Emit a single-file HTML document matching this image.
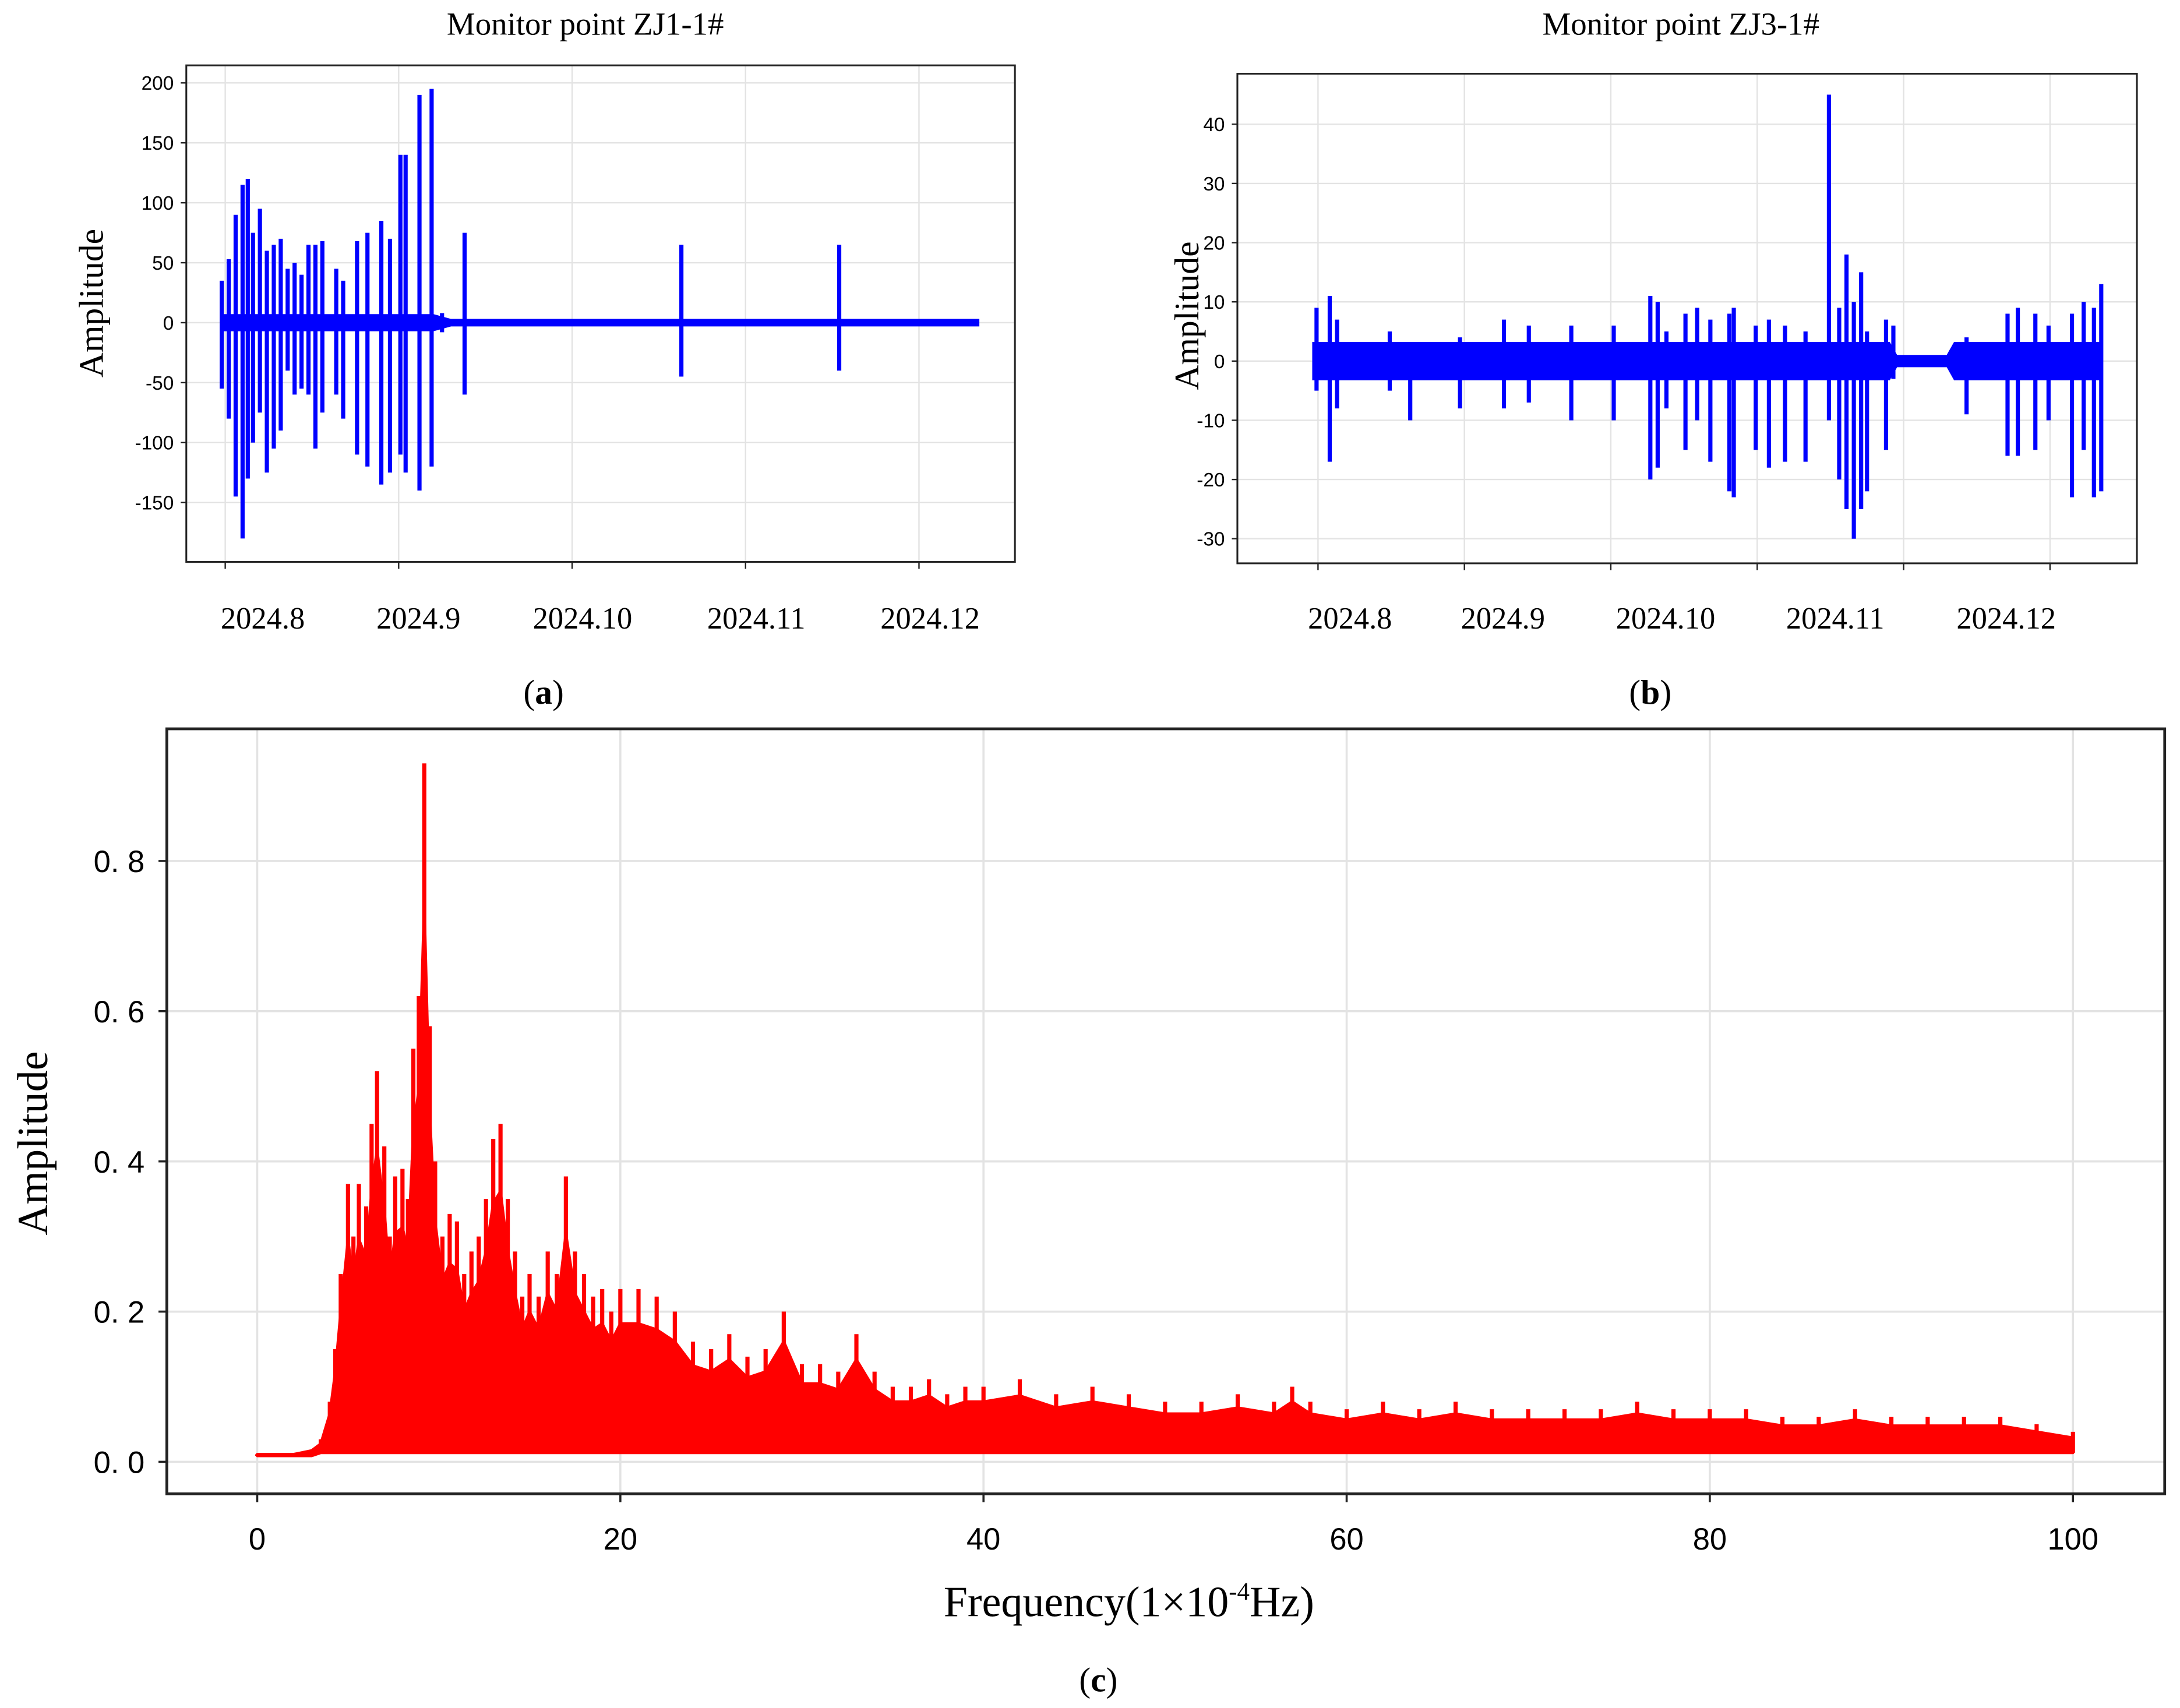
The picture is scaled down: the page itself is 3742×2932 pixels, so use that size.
<!DOCTYPE html>
<html><head><meta charset="utf-8"><style>
html,body{margin:0;padding:0;background:#fff}
svg{display:block}
.serif{font-family:"Liberation Serif",serif}
.sans{font-family:"Liberation Sans","DejaVu Sans",sans-serif}
</style></head><body>
<svg id="fig" width="3742" height="2932" viewBox="0 0 1568 1228" preserveAspectRatio="none" xmlns="http://www.w3.org/2000/svg">
<rect width="1568" height="1228" fill="#fff"/>
<g id="pa"></g>
<g id="pb"></g>
<g id="pc"></g>
<text class="serif" x="421" y="25" font-size="23" text-anchor="middle">Monitor point ZJ1-1#</text>
<text class="serif" x="1209" y="25" font-size="23" text-anchor="middle">Monitor point ZJ3-1#</text>
<text class="serif" x="391" y="506" font-size="25" text-anchor="middle">(<tspan font-weight="bold">a</tspan>)</text>
<text class="serif" x="1187" y="506" font-size="25" text-anchor="middle">(<tspan font-weight="bold">b</tspan>)</text>
<text class="serif" x="790" y="1216" font-size="25" text-anchor="middle">(<tspan font-weight="bold">c</tspan>)</text>
<text class="serif" x="74" y="218" font-size="25" text-anchor="middle" transform="rotate(-90 74 218)">Amplitude</text>
<text class="serif" x="862" y="227" font-size="25" text-anchor="middle" transform="rotate(-90 862 227)">Amplitude</text>
<text class="serif" x="34" y="822" font-size="31" text-anchor="middle" transform="rotate(-90 34 822)">Amplitude</text>
<text class="serif" x="812" y="1162" font-size="31" text-anchor="middle">Frequency(1×10<tspan font-size="18" dy="-12">-4</tspan><tspan dy="12">Hz)</tspan></text>
</svg>
<script>
// ---- Panel A data (month units, 8 = Aug 2024) ----
const aTimes=[7.98,8.02,8.06,8.10,8.13,8.16,8.20,8.24,8.28,8.32,8.36,8.40,8.44,8.48,8.52,8.56,8.64,8.68,8.76,8.82,8.90,8.95,9.01,9.04,9.12,9.19,9.25,9.38,10.63,11.54];
const aHigh=[35,53,90,115,120,75,95,60,65,70,45,50,40,65,65,68,45,35,68,75,85,70,140,140,190,195,8,75,65,65];
const aLow=[-55,-80,-145,-180,-130,-100,-75,-125,-105,-90,-40,-60,-55,-60,-105,-75,-60,-80,-110,-120,-135,-125,-110,-125,-140,-120,-8,-60,-45,-40];
const aBandT=[7.98,9.2,9.3,12.34];
const aBandHi=[6,6,2,2];
const aBandLo=[-6,-6,-2,-2];
const aYTicks=[200,150,100,50,0,-50,-100,-150];
const aXLabels=["2024.8","2024.9","2024.10","2024.11","2024.12"];
const aXTicks=[8,9,10,11,12];
// ---- Panel B data ----
const bTimes=[7.99,8.08,8.13,8.49,8.63,8.97,9.27,9.44,9.73,10.02,10.27,10.32,10.38,10.51,10.59,10.68,10.81,10.84,10.99,11.08,11.19,11.33,11.49,11.56,11.61,11.66,11.71,11.75,11.88,11.93,12.43,12.71,12.78,12.90,12.99,13.15,13.23,13.30,13.35];
const bHigh=[9,11,7,5,3,4,7,6,6,6,11,10,5,8,9,7,8,9,6,7,6,5,45,9,18,10,15,5,7,6,4,8,9,8,6,8,10,9,13];
const bLow=[-5,-17,-8,-5,-10,-8,-8,-7,-10,-10,-20,-18,-8,-15,-10,-17,-22,-23,-15,-18,-17,-17,-10,-20,-25,-30,-25,-22,-15,-3,-9,-16,-16,-15,-10,-23,-15,-23,-22];
const bBandT=[7.97,11.9,11.95,12.3,12.35,13.34];
const bBandHi=[3,3,0.8,0.8,3,3];
const bBandLo=[-3,-3,-0.8,-0.8,-3,-3];
const bYTicks=[40,30,20,10,0,-10,-20,-30];
const bXLabels=["2024.8","2024.9","2024.10","2024.11","2024.12"];
const bXTicks=[8,9,10,11,12,13];
// ---- Panel C data ----
const cFreq=[0,1,2,3,3.5,4,4.3,4.6,5,5.3,5.6,6,6.3,6.6,7,7.3,7.6,8,8.3,8.6,8.9,9.2,9.5,9.8,10.2,10.6,11,11.4,11.8,12.2,12.6,13,13.4,13.8,14.2,14.6,15,15.5,16,16.5,17,17.5,18,18.5,19,19.5,20,21,22,23,24,25,26,27,28,29,30,31,32,33,34,35,36,37,38,39,40,42,44,46,48,50,52,54,56,57,58,60,62,64,66,68,70,72,74,76,78,80,82,84,86,88,90,92,94,96,98,100];
const cAmp=[0.01,0.01,0.01,0.015,0.03,0.08,0.15,0.25,0.37,0.3,0.37,0.34,0.45,0.52,0.42,0.3,0.38,0.39,0.35,0.55,0.62,0.93,0.58,0.4,0.3,0.33,0.32,0.25,0.28,0.3,0.35,0.43,0.45,0.35,0.28,0.22,0.25,0.22,0.28,0.25,0.38,0.28,0.25,0.22,0.23,0.2,0.23,0.23,0.22,0.2,0.16,0.15,0.17,0.14,0.15,0.2,0.13,0.13,0.12,0.17,0.12,0.1,0.1,0.11,0.09,0.1,0.1,0.11,0.09,0.1,0.09,0.08,0.08,0.09,0.08,0.1,0.08,0.07,0.08,0.07,0.08,0.07,0.07,0.07,0.07,0.08,0.07,0.07,0.07,0.06,0.06,0.07,0.06,0.06,0.06,0.06,0.05,0.04];
const cYTicks=[0,0.2,0.4,0.6,0.8];
const cYLabels=["0. 0","0. 2","0. 4","0. 6","0. 8"];
const cXTicks=[0,20,40,60,80,100];

const NS="http://www.w3.org/2000/svg";
function mk(parent,tag,attrs){const e=document.createElementNS(NS,tag);for(const k in attrs)e.setAttribute(k,attrs[k]);parent.appendChild(e);return e;}

function timePanel(g,box,xs,ys,xTicks,xLabels,xLabelPos,yTicks,times,hi,lo,bT,bH,bL,name){
  const X=v=>xs[0]+(v-xs[1])*xs[2];
  const Y=v=>ys[0]-v*ys[1];
  for(const t of xTicks){const l=mk(g,'line',{x1:X(t),x2:X(t),y1:box[1],y2:box[3],stroke:'#e3e3e3','stroke-width':1});
    
    }
  for(const v of yTicks){const l=mk(g,'line',{x1:box[0],x2:box[2],y1:Y(v),y2:Y(v),stroke:'#e3e3e3','stroke-width':1});
    
    }
  let pts=bT.map((t,i)=>X(t)+','+Y(bH[i])).concat(bT.slice().reverse().map((t,i)=>X(t)+','+Y(bL[bL.length-1-i])));
  const band=mk(g,'polygon',{points:pts.join(' '),fill:'#0000ff',stroke:'#0000ff','stroke-width':2});
  
  
  times.forEach((t,i)=>{const l=mk(g,'line',{x1:X(t),x2:X(t),y1:Y(hi[i]),y2:Y(lo[i]),stroke:'#0000ff','stroke-width':3});
    
    });
  const fr=mk(g,'rect',{x:box[0],y:box[1],width:box[2]-box[0],height:box[3]-box[1],fill:'none',stroke:'#222','stroke-width':1.3});
  
  
  for(const v of yTicks){mk(g,'line',{x1:box[0]-4,x2:box[0],y1:Y(v),y2:Y(v),stroke:'#222'});
    const t=mk(g,'text',{x:box[0]-9,y:Y(v)+5,'font-size':14,'text-anchor':'end',class:'sans'});t.textContent=v;
    
    }
  for(const tk of xTicks){mk(g,'line',{x1:X(tk),x2:X(tk),y1:box[3],y2:box[3]+5,stroke:'#222'});}
  xLabels.forEach((s,i)=>{const t=mk(g,'text',{x:xLabelPos[i],y:452,'font-size':22,'text-anchor':'middle',class:'serif'});t.textContent=s;
    
    });
}
timePanel(document.getElementById('pa'),[134,47,730,404],[162,8,124.75],[232,0.862],aXTicks,aXLabels,[189,301,419,544,669],aYTicks,aTimes,aHigh,aLow,aBandT,aBandHi,aBandLo,'panel-a');
timePanel(document.getElementById('pb'),[890,53,1537,405],[948,8,105.3],[259.6,4.257],bXTicks,bXLabels,[971,1081,1198,1320,1443],bYTicks,bTimes,bHigh,bLow,bBandT,bBandHi,bBandLo,'panel-b');

// Panel C
(function(){
  const g=document.getElementById('pc');
  const box=[120,524,1557,1074];
  const X=v=>185+v*13.06;
  const Y=v=>1051-v*540;
  for(const t of cXTicks){const l=mk(g,'line',{x1:X(t),x2:X(t),y1:box[1],y2:box[3],stroke:'#e3e3e3','stroke-width':1.5});
    
    }
  for(const v of cYTicks){const l=mk(g,'line',{x1:box[0],x2:box[2],y1:Y(v),y2:Y(v),stroke:'#e3e3e3','stroke-width':1.5});
    
    }
  const lowOf=f=>f<3.5?0.008:0.012;
  let top=cFreq.map((f,i)=>X(f)+','+Y(cAmp[i]>0.02?cAmp[i]*0.8:cAmp[i]));
  let bot=cFreq.slice().reverse().map(f=>X(f)+','+Y(lowOf(f)));
  const poly=mk(g,'polygon',{points:top.concat(bot).join(' '),fill:'#ff0000',stroke:'#ff0000','stroke-width':2,'stroke-linejoin':'round'});
  
  
  cFreq.forEach((f,i)=>{const l=mk(g,'line',{x1:X(f),x2:X(f),y1:Y(cAmp[i]),y2:Y(lowOf(f)),stroke:'#ff0000','stroke-width':3});
    
    });
  const fr=mk(g,'rect',{x:box[0],y:box[1],width:box[2]-box[0],height:box[3]-box[1],fill:'none',stroke:'#222','stroke-width':2});
  
  
  cYTicks.forEach((v,i)=>{mk(g,'line',{x1:box[0]-6,x2:box[0],y1:Y(v),y2:Y(v),stroke:'#222','stroke-width':1.5});
    const t=mk(g,'text',{x:box[0]-16,y:Y(v)+8,'font-size':22,'text-anchor':'end',class:'sans'});t.textContent=cYLabels[i];
    
    });
  cXTicks.forEach(v=>{mk(g,'line',{x1:X(v),x2:X(v),y1:box[3],y2:box[3]+6,stroke:'#222','stroke-width':1.5});
    const t=mk(g,'text',{x:X(v),y:1114,'font-size':22,'text-anchor':'middle',class:'sans'});t.textContent=v;
    
    });
})();
</script>
</body></html>
